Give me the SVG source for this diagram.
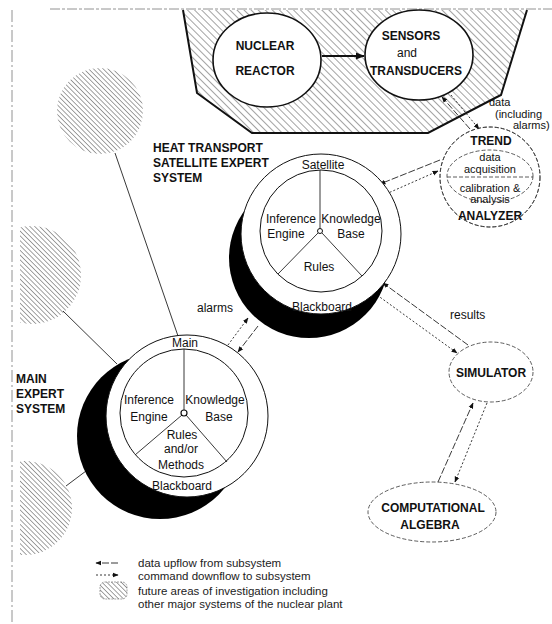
<svg xmlns="http://www.w3.org/2000/svg" width="552" height="624" viewBox="0 0 552 624">
<style>
text{font-family:"Liberation Sans",Arial,Helvetica,sans-serif;fill:#111}
.b{font-weight:bold;font-size:12px}
.r{font-size:12px}
.s{font-size:11px}
.lg{font-size:11.5px;fill:#222}
.mid{text-anchor:middle}
.thin{fill:none;stroke:#222;stroke-width:0.9}
.up{fill:none;stroke:#222;stroke-width:0.9;stroke-dasharray:7 2}
.dn{fill:none;stroke:#222;stroke-width:0.9;stroke-dasharray:2 2}
.dash{fill:none;stroke:#333;stroke-width:0.8;stroke-dasharray:4 2}
.white{fill:#fff;stroke:#111;stroke-width:1}
</style>
<defs>
<pattern id="hatchA" patternUnits="userSpaceOnUse" width="5" height="5" patternTransform="rotate(-45)">
<rect width="5" height="5" fill="#fff"/>
<line x1="0" y1="0" x2="0" y2="5" stroke="#333" stroke-width="0.9"/>
</pattern>
<pattern id="hatchB" patternUnits="userSpaceOnUse" width="3.4" height="3.4" patternTransform="rotate(-45)">
<rect width="3.4" height="3.4" fill="#fff"/>
<line x1="0" y1="0" x2="0" y2="3.4" stroke="#444" stroke-width="1"/>
</pattern>
<marker id="ah" viewBox="0 0 10 10" refX="9" refY="5" markerWidth="6" markerHeight="6" orient="auto" markerUnits="userSpaceOnUse">
<path d="M0,1 L10,5 L0,9 z" fill="#111"/>
</marker>
<marker id="ahBig" viewBox="0 0 10 10" refX="9" refY="5" markerWidth="9" markerHeight="9" orient="auto" markerUnits="userSpaceOnUse">
<path d="M0,1 L10,5 L0,9 z" fill="#111"/>
</marker>
<clipPath id="clipLeft"><rect x="20" y="0" width="540" height="624"/></clipPath>
</defs>

<!-- scan border -->
<g id="border">
<line x1="50" y1="9" x2="552" y2="9" stroke="#777" stroke-width="0.8" stroke-dasharray="10 2 3 2"/>
<line x1="12" y1="10" x2="12" y2="624" stroke="#777" stroke-width="0.8" stroke-dasharray="12 3 2 3"/>
</g>

<!-- plant enclosure -->
<g id="plant">
<polygon points="183,10 197,93 252,133 428,133 495,98 501,95 527,10" fill="url(#hatchA)" stroke="none"/>
<polyline points="183,10 197,93 252,133 428,133 495,98 501,95 527,10" fill="none" stroke="#111" stroke-width="2"/>
</g>

<!-- future areas (hatched) -->
<g id="future-top"><circle cx="100" cy="111" r="43" fill="url(#hatchB)"/></g>
<g id="future-mid"><circle cx="32" cy="275" r="49" fill="url(#hatchB)" clip-path="url(#clipLeft)"/></g>
<g id="future-bottom"><circle cx="25" cy="508" r="47" fill="url(#hatchB)" clip-path="url(#clipLeft)"/></g>

<!-- connectors -->
<g id="connectors">
<line class="thin" x1="115" y1="153" x2="178" y2="336"/>
<line class="thin" x1="63" y1="311" x2="117" y2="364"/>
<line class="thin" x1="66" y1="486" x2="86" y2="471"/>
<line x1="322" y1="56" x2="364" y2="56" stroke="#111" stroke-width="2" marker-end="url(#ahBig)"/>
<line class="up" x1="470" y1="129" x2="442" y2="97" marker-end="url(#ah)"/>
<line class="dn" x1="451" y1="95" x2="479" y2="129" marker-end="url(#ah)"/>
<line class="up" x1="440" y1="160" x2="380" y2="184" marker-end="url(#ah)"/>
<line class="dn" x1="386" y1="194" x2="438" y2="171" marker-end="url(#ah)"/>
<line class="dn" x1="228" y1="345" x2="248" y2="318" marker-end="url(#ah)"/>
<line class="up" x1="258" y1="326" x2="238" y2="352" marker-end="url(#ah)"/>
<line class="up" x1="468" y1="345" x2="383" y2="283" marker-end="url(#ah)"/>
<line class="dn" x1="377" y1="295" x2="457" y2="353" marker-end="url(#ah)"/>
<line class="up" x1="438" y1="482" x2="473" y2="403" marker-end="url(#ah)"/>
<line class="dn" x1="487" y1="403" x2="455" y2="482" marker-end="url(#ah)"/>
</g>

<g id="reactor">
<ellipse cx="267" cy="60" rx="54" ry="47" fill="#fff" stroke="#111" stroke-width="1.6"/>
<text class="b mid" x="265" y="50">NUCLEAR</text>
<text class="b mid" x="265" y="75">REACTOR</text>
</g>

<g id="sensors">
<ellipse cx="419" cy="55" rx="54" ry="45" fill="#fff" stroke="#111" stroke-width="1.6"/>
<text class="b mid" x="411" y="40">SENSORS</text>
<text class="r mid" x="407" y="57">and</text>
<text class="b mid" x="416" y="75">TRANSDUCERS</text>
</g>

<text class="s" x="489" y="106">data</text>
<text class="s" x="495" y="118">(including</text>
<text class="s" x="513" y="129">alarms)</text>

<g id="trend">
<circle cx="490" cy="177" r="50" fill="#fff" class="dash"/>
<circle cx="490" cy="177" r="50" fill="none" stroke="#333" stroke-width="0.8" stroke-dasharray="4 2"/>
<ellipse cx="490" cy="176" rx="43" ry="26" class="dash"/>
<line x1="447" y1="177" x2="533" y2="177" class="dash"/>
<text class="b mid" x="491" y="145">TREND</text>
<text class="s mid" x="490" y="161">data</text>
<text class="s mid" x="490" y="173">acquisition</text>
<text class="s mid" x="490" y="192">calibration &amp;</text>
<text class="s mid" x="490" y="203">analysis</text>
<text class="b mid" x="490" y="220">ANALYZER</text>
</g>

<g id="satellite">
<circle cx="309" cy="258" r="80" fill="#000"/>
<circle cx="321" cy="234" r="80" class="white"/>
<circle cx="321" cy="231" r="61" fill="none" stroke="#111" stroke-width="1"/>
<line class="thin" x1="320" y1="170" x2="320" y2="229"/>
<line class="thin" x1="318" y1="233" x2="278" y2="274"/>
<line class="thin" x1="322" y1="233" x2="362" y2="276"/>
<circle cx="320" cy="231" r="2.5" fill="#fff" stroke="#111" stroke-width="1"/>
<text class="r mid" x="323" y="169">Satellite</text>
<text class="r mid" x="291" y="223">Inference</text>
<text class="r mid" x="286" y="238">Engine</text>
<text class="r mid" x="351" y="223">Knowledge</text>
<text class="r mid" x="351" y="238">Base</text>
<text class="r mid" x="319" y="271">Rules</text>
<text class="r mid" x="322" y="311">Blackboard</text>
</g>
<g id="satellite-label">
<text class="b" x="153" y="152">HEAT TRANSPORT</text>
<text class="b" x="153" y="167">SATELLITE EXPERT</text>
<text class="b" x="153" y="182">SYSTEM</text>
</g>
<text class="r" x="197" y="312">alarms</text>
<text class="r" x="450" y="319">results</text>

<g id="main">
<circle cx="160" cy="436" r="83" fill="#000"/>
<circle cx="187" cy="416" r="81" class="white"/>
<circle cx="184" cy="413" r="64" fill="none" stroke="#111" stroke-width="1"/>
<line class="thin" x1="184" y1="349" x2="184" y2="411"/>
<line class="thin" x1="182" y1="415" x2="135" y2="455"/>
<line class="thin" x1="186" y1="415" x2="227" y2="462"/>
<circle cx="184" cy="413" r="3" fill="#fff" stroke="#111" stroke-width="1.2"/>
<text class="r mid" x="185" y="347">Main</text>
<text class="r mid" x="149" y="404">Inference</text>
<text class="r mid" x="149" y="421">Engine</text>
<text class="r mid" x="215" y="404">Knowledge</text>
<text class="r mid" x="219" y="421">Base</text>
<text class="r mid" x="182" y="439">Rules</text>
<text class="r mid" x="181" y="453">and/or</text>
<text class="r mid" x="181" y="469">Methods</text>
<text class="r mid" x="182" y="490">Blackboard</text>
</g>
<g id="main-label">
<text class="b" x="16" y="383">MAIN</text>
<text class="b" x="16" y="398">EXPERT</text>
<text class="b" x="16" y="413">SYSTEM</text>
</g>

<g id="simulator">
<ellipse cx="491" cy="372" rx="42" ry="30" fill="#fff" class="dash"/>
<text class="b mid" x="491" y="377">SIMULATOR</text>
</g>

<g id="algebra">
<ellipse cx="432" cy="512" rx="64" ry="30" fill="#fff" class="dash"/>
<text class="b mid" x="433" y="512">COMPUTATIONAL</text>
<text class="b mid" x="430" y="529">ALGEBRA</text>
</g>

<g id="legend">
<line class="up" x1="118" y1="563" x2="96" y2="563" marker-end="url(#ah)"/>
<text class="lg" x="138" y="567">data upflow from subsystem</text>
<line class="dn" x1="96" y1="575" x2="118" y2="575" marker-end="url(#ah)"/>
<text class="lg" x="138" y="580">command downflow to subsystem</text>
<rect x="100" y="582" width="27" height="17" rx="5" fill="url(#hatchB)" stroke="#666" stroke-width="0.6" stroke-dasharray="2 1"/>
<text class="lg" x="138" y="595">future areas of investigation including</text>
<text class="lg" x="138" y="608">other major systems of the nuclear plant</text>
</g>
</svg>
